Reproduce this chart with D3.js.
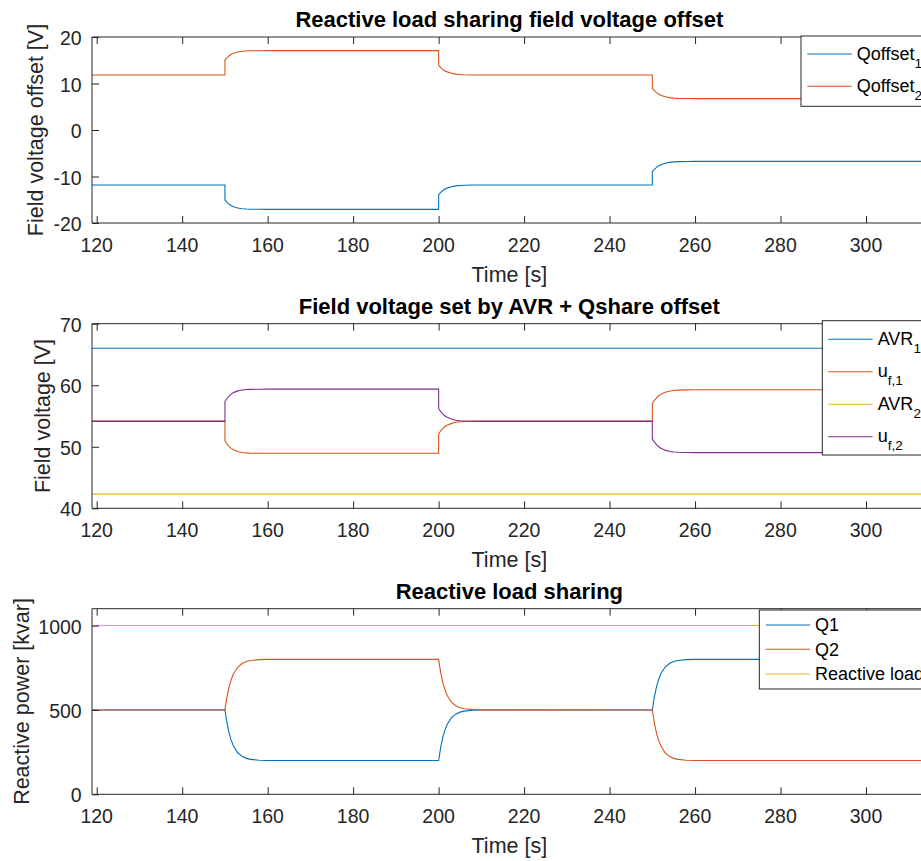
<!DOCTYPE html>
<html>
<head>
<meta charset="utf-8">
<script src="https://cdn.jsdelivr.net/npm/d3@7/dist/d3.min.js"></script>
<style>
  html, body { margin: 0; padding: 0; background: #fff; }
  svg { display: block; font-family: "Liberation Sans", Arial, Helvetica, sans-serif; }
</style>
</head>
<body>
<svg id="chart" width="921" height="861"></svg>
<script>
// ---------------- DATA ----------------
const timeGrid = [118.9,
  150, 150.01, 150.5, 151, 151.5, 152, 153, 154, 155, 156, 158, 160,
  200, 200.01, 200.5, 201, 201.5, 202, 203, 204, 205, 206, 208, 210,
  250, 250.01, 250.5, 251, 251.5, 252, 253, 254, 255, 256, 258, 260,
  314.2];

const qoffset1 = [-11.83,
  -11.83, -15.05, -15.55, -15.98, -16.3, -16.5, -16.78, -16.92, -17.0, -17.03, -17.05, -17.06,
  -17.06, -13.9, -13.4, -13.0, -12.7, -12.5, -12.2, -12.02, -11.93, -11.88, -11.84, -11.83,
  -11.83, -8.96, -8.45, -8.05, -7.7, -7.45, -7.15, -6.97, -6.86, -6.8, -6.76, -6.74,
  -6.74];
const qoffset2 = [11.83,
  11.83, 15.05, 15.55, 15.98, 16.3, 16.5, 16.78, 16.92, 17.0, 17.03, 17.05, 17.06,
  17.06, 13.9, 13.4, 13.0, 12.7, 12.5, 12.2, 12.02, 11.93, 11.88, 11.84, 11.83,
  11.83, 8.96, 8.45, 8.05, 7.7, 7.45, 7.15, 6.97, 6.86, 6.8, 6.76, 6.74,
  6.74];

const constTime = [118.9, 314.2];
const avr1 = [66.0, 66.0];
const avr2 = [42.3, 42.3];
const uf1 = [54.17,
  54.17, 50.95, 50.45, 50.02, 49.7, 49.5, 49.22, 49.08, 49.0, 48.97, 48.95, 48.94,
  48.94, 52.1, 52.6, 53.0, 53.3, 53.5, 53.8, 53.98, 54.07, 54.12, 54.16, 54.17,
  54.17, 57.04, 57.55, 57.95, 58.3, 58.55, 58.85, 59.03, 59.14, 59.2, 59.24, 59.26,
  59.26];
const uf2 = [54.13,
  54.13, 57.35, 57.85, 58.28, 58.6, 58.8, 59.08, 59.22, 59.3, 59.33, 59.35, 59.36,
  59.36, 56.2, 55.7, 55.3, 55.0, 54.8, 54.5, 54.32, 54.23, 54.18, 54.14, 54.13,
  54.13, 51.26, 50.75, 50.35, 50.0, 49.75, 49.45, 49.27, 49.16, 49.1, 49.06, 49.04,
  49.04];

const q1 = [500,
  500, 498, 420, 360, 318, 286, 246, 225, 213, 207, 202, 200.5,
  200, 202, 280, 340, 382, 414, 454, 475, 487, 493, 498, 499.5,
  500, 502, 580, 640, 682, 714, 754, 775, 787, 793, 798, 799.5,
  800];
const q2 = [500,
  500, 502, 580, 640, 682, 714, 754, 775, 787, 793, 798, 799.5,
  800, 798, 720, 660, 618, 586, 546, 525, 513, 507, 502, 500.5,
  500, 498, 420, 360, 318, 286, 246, 225, 213, 207, 202, 200.5,
  200];
const reactiveLoad = [1000, 1000];

const xTicks = [120, 140, 160, 180, 200, 220, 240, 260, 280, 300];
const yTicks1 = [-20, -10, 0, 10, 20];
const yTicks2 = [40, 50, 60, 70];
const yTicks3 = [0, 500, 1000];

const titles = ["Reactive load sharing field voltage offset",
                "Field voltage set by AVR + Qshare offset",
                "Reactive load sharing"];
const yLabels = ["Field voltage offset [V]", "Field voltage [V]", "Reactive power [kvar]"];
const xLabel = "Time [s]";

// ---------------- DRAWING ----------------
const C = { blue: "#0072BD", orange: "#D95319", yellow: "#EDB120", purple: "#7E2F8E" };
const AX = "#262626";
const svg = d3.select("#chart");
const xLeft = 92, xRight = 926.7;
const x = d3.scaleLinear().domain([118.9, 314.2]).range([xLeft, xRight]);

const panels = [
  { top: 37, bottom: 223, domain: [-20, 20], ticks: yTicks1, labelX: 43.3,
    series: [
      { name: "Qoffset", sub: "1", t: timeGrid, v: qoffset1, color: C.blue },
      { name: "Qoffset", sub: "2", t: timeGrid, v: qoffset2, color: C.orange } ],
    legend: { x: 801, y: 36, h: 70.3, lx0: 807.3, lx1: 851.7, tx: 856.7, ys: [54, 86.3], dy: 6 } },
  { top: 323.7, bottom: 508.3, domain: [40, 70], ticks: yTicks2, labelX: 50,
    series: [
      { name: "AVR", sub: "1", t: constTime, v: avr1, color: C.blue },
      { name: "u", sub: "f,1", t: timeGrid, v: uf1, color: C.orange },
      { name: "AVR", sub: "2", t: constTime, v: avr2, color: C.yellow },
      { name: "u", sub: "f,2", t: timeGrid, v: uf2, color: C.purple } ],
    legend: { x: 822.3, y: 320.7, h: 134.3, lx0: 828.3, lx1: 872.7, tx: 877.7, ys: [339.3, 371.7, 404.3, 436.7], dy: 5.5 } },
  { top: 608.7, bottom: 794.3, domain: [0, 1100], ticks: yTicks3, labelX: 29.3,
    series: [
      { name: "Q1", t: timeGrid, v: q1, color: C.blue },
      { name: "Q2", t: timeGrid, v: q2, color: C.orange },
      { name: "Reactive load", t: constTime, v: reactiveLoad, color: C.yellow } ],
    legend: { x: 759.3, y: 610, h: 79, lx0: 765.7, lx1: 810, tx: 815, ys: [625, 649.3, 674], dy: 6.3 } }
];

const defs = svg.append("defs");

panels.forEach((p, i) => {
  const y = d3.scaleLinear().domain(p.domain).range([p.bottom, p.top]);
  const g = svg.append("g");
  const clipId = "clip" + i;
  defs.append("clipPath").attr("id", clipId).append("rect")
    .attr("x", xLeft).attr("y", p.top).attr("width", xRight - xLeft).attr("height", p.bottom - p.top);

  g.append("rect").attr("x", xLeft).attr("y", p.top).attr("width", xRight - xLeft)
    .attr("height", p.bottom - p.top).attr("fill", "#fff");

  const lg = g.append("g").attr("clip-path", `url(#${clipId})`);
  p.series.forEach(s => {
    const pts = s.t.map((t, k) => [t, s.v[k]]);
    lg.append("path").datum(pts)
      .attr("fill", "none").attr("stroke", s.color).attr("stroke-width", 1.1)
      .attr("d", d3.line().x(d => x(d[0])).y(d => y(d[1])));
  });

  const tl = 7;
  const xb = g.append("g").attr("transform", `translate(0,${p.bottom})`)
    .call(d3.axisTop(x).tickValues(xTicks).tickSize(tl).tickFormat(""));
  const xt = g.append("g").attr("transform", `translate(0,${p.top})`)
    .call(d3.axisBottom(x).tickValues(xTicks).tickSize(tl).tickFormat(""));
  const yl = g.append("g").attr("transform", `translate(${xLeft},0)`)
    .call(d3.axisRight(y).tickValues(p.ticks).tickSize(tl).tickFormat(""));
  [xb, xt, yl].forEach(a => {
    a.select(".domain").remove();
    a.selectAll("line").attr("stroke", AX).attr("stroke-width", 1);
  });
  g.append("path").attr("fill", "none").attr("stroke", AX).attr("stroke-width", 1)
    .attr("d", `M${xRight},${p.top}H${xLeft}V${p.bottom}H${xRight}`);

  g.selectAll(".xtl").data(xTicks).enter().append("text")
    .attr("x", d => x(d)).attr("y", p.bottom + 28.7)
    .attr("text-anchor", "middle").attr("font-size", 19.5).attr("fill", AX)
    .text(d => d);
  g.selectAll(".ytl").data(p.ticks).enter().append("text")
    .attr("x", xLeft - 10.3).attr("y", d => y(d) + 8)
    .attr("text-anchor", "end").attr("font-size", 19.5).attr("fill", AX)
    .text(d => d);

  g.append("text").attr("x", (xLeft + xRight) / 2).attr("y", p.top - 10.2)
    .attr("text-anchor", "middle").attr("font-size", 22).attr("font-weight", "bold")
    .attr("fill", "#000").text(titles[i]);
  g.append("text").attr("x", (xLeft + xRight) / 2).attr("y", p.bottom + 58.7)
    .attr("text-anchor", "middle").attr("font-size", 21.5).attr("fill", AX).text(xLabel);
  g.append("text").attr("transform", `translate(${p.labelX},${(p.top + p.bottom) / 2}) rotate(-90)`)
    .attr("text-anchor", "middle").attr("font-size", 21.5).attr("fill", AX).text(yLabels[i]);

  const L = p.legend;
  const leg = g.append("g");
  leg.append("rect").attr("x", L.x).attr("y", L.y).attr("width", 300).attr("height", L.h)
    .attr("fill", "#fff").attr("stroke", AX).attr("stroke-width", 1);
  p.series.forEach((s, k) => {
    const ly = L.ys[k];
    leg.append("line").attr("x1", L.lx0).attr("x2", L.lx1).attr("y1", ly).attr("y2", ly)
      .attr("stroke", s.color).attr("stroke-width", 1.1);
    const t = leg.append("text").attr("x", L.tx).attr("y", ly + L.dy)
      .attr("font-size", 18).attr("fill", "#000");
    t.append("tspan").text(s.name);
    if (s.sub) {
      t.append("tspan").attr("dy", 8).attr("font-size", 13.5).text(s.sub);
    }
  });
});
</script>
</body>
</html>
